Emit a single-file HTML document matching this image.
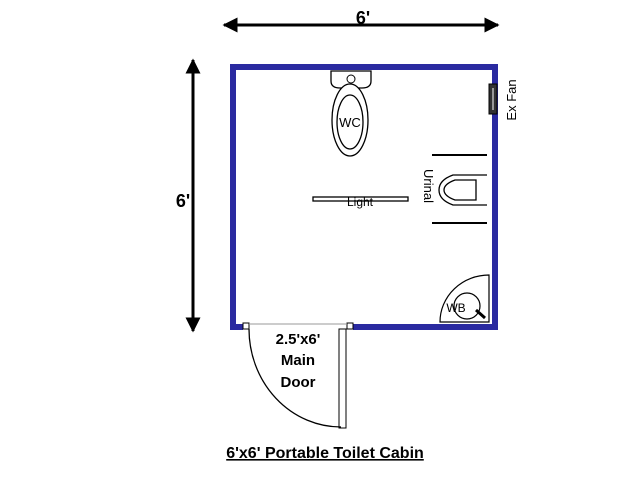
<!DOCTYPE html>
<html><head><style>body{margin:0;background:#fff}svg{display:block}</style></head><body>
<svg width="640" height="480" viewBox="0 0 640 480" xmlns="http://www.w3.org/2000/svg" font-family="Liberation Sans, sans-serif">
<defs><marker id="a" viewBox="0 0 10 10" refX="9" refY="5" markerWidth="5" markerHeight="5" orient="auto-start-reverse"><path d="M0,0L10,5L0,10z" fill="#000"/></marker></defs>
<line x1="224" y1="25" x2="498" y2="25" stroke="#000" stroke-width="3" marker-start="url(#a)" marker-end="url(#a)"/>
<text x="363" y="24" font-size="18" font-weight="bold" text-anchor="middle">6'</text>
<line x1="193" y1="60" x2="193" y2="331" stroke="#000" stroke-width="3" marker-start="url(#a)" marker-end="url(#a)"/>
<text x="183" y="207" font-size="18" font-weight="bold" text-anchor="middle">6'</text>
<path d="M243,327 L233,327 L233,67 L495,67 L495,327 L353,327" fill="none" stroke="#2a2aa0" stroke-width="6"/>
<rect x="243" y="323" width="6" height="6" fill="#fff" stroke="#000"/>
<rect x="347" y="323" width="6" height="6" fill="#fff" stroke="#000"/>
<line x1="249" y1="324" x2="347" y2="324" stroke="#999" stroke-width="1"/>
<rect x="339" y="329" width="7" height="99" fill="#fff" stroke="#000"/>
<path d="M249,329 A92,98 0 0 0 341,427" fill="none" stroke="#000" stroke-width="1.3"/>
<text x="298" y="344" font-size="15" font-weight="bold" text-anchor="middle">2.5'x6'</text>
<text x="298" y="365" font-size="15" font-weight="bold" text-anchor="middle">Main</text>
<text x="298" y="387" font-size="15" font-weight="bold" text-anchor="middle">Door</text>
<path d="M331,71 L371,71 L371,81 Q371,88 362,88 L340,88 Q331,88 331,81 Z" fill="#fff" stroke="#000" stroke-width="1.3"/>
<circle cx="351" cy="79" r="4" fill="none" stroke="#000"/>
<ellipse cx="350" cy="120" rx="18" ry="36" fill="#fff" stroke="#000" stroke-width="1.3"/>
<ellipse cx="350" cy="122" rx="13" ry="27" fill="none" stroke="#000" stroke-width="1.3"/>
<text x="350" y="127" font-size="13" text-anchor="middle">WC</text>
<rect x="489" y="84" width="8" height="30" fill="#333" stroke="#000"/>
<line x1="493" y1="88" x2="493" y2="110" stroke="#fff"/>
<text x="512" y="100" font-size="13" text-anchor="middle" transform="rotate(-90 512 100)" dy="4">Ex Fan</text>
<line x1="432" y1="155" x2="487" y2="155" stroke="#000" stroke-width="2"/>
<line x1="432" y1="223" x2="487" y2="223" stroke="#000" stroke-width="2"/>
<path d="M487,175 L453,175 Q439,180 439,190 Q439,200 453,205 L487,205" fill="#fff" stroke="#000" stroke-width="1.3"/>
<path d="M476,180 L455,180 Q444,184 444,190 Q444,196 455,200 L476,200 Z" fill="none" stroke="#000" stroke-width="1.3"/>
<text x="428" y="186" font-size="13" text-anchor="middle" transform="rotate(90 428 186)" dy="4">Urinal</text>
<rect x="313" y="197" width="95" height="4" fill="#fff" stroke="#000" stroke-width="1.3"/>
<text x="360" y="206" font-size="12" text-anchor="middle">Light</text>
<path d="M489,322 L440,322 A49,47 0 0 1 489,275 Z" fill="#fff" stroke="#000" stroke-width="1.2"/>
<circle cx="467" cy="306" r="13" fill="none" stroke="#000" stroke-width="1.2"/>
<line x1="476" y1="310" x2="485" y2="318" stroke="#000" stroke-width="3"/>
<text x="456" y="312" font-size="12" text-anchor="middle">WB</text>
<text x="325" y="458" font-size="16" font-weight="bold" text-anchor="middle" text-decoration="underline">6'x6' Portable Toilet Cabin</text>
</svg>
</body></html>
